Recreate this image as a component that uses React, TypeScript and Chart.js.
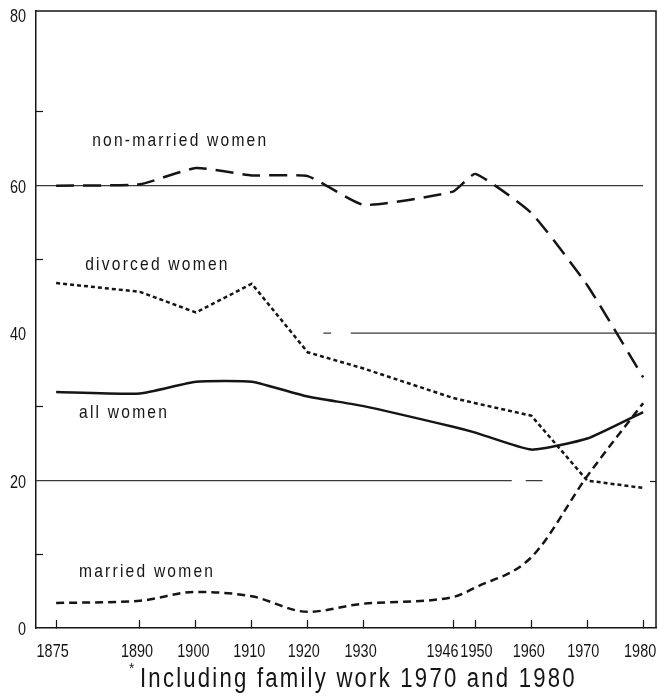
import React, { useEffect, useRef } from 'react';
import { Chart, registerables } from 'chart.js';

Chart.register(...registerables);

// ---- data ----
const years = [1875, 1890, 1900, 1910, 1920, 1930, 1946, 1950, 1960, 1970, 1980];
const nonMarriedWomen = [60.0, 60.2, 62.4, 61.4, 61.3, 57.4, 59.2, 61.6, 56.3, 46.5, 34.0];
const divorcedWomen = [46.8, 45.6, 42.8, 46.7, 37.4, 35.2, 31.2, 30.5, 28.8, 20.0, 19.0];
const allWomen = [32.0, 31.8, 33.4, 33.4, 31.4, 30.1, 27.3, 26.5, 24.2, 25.7, 29.3];
const marriedWomen = [3.4, 3.7, 4.9, 4.3, 2.2, 3.3, 4.2, 5.5, 9.6, 20.6, 30.5];

// x tick label nudges (px) as set in the original print
const xLabelShift = [-3.5, -3, -2.5, -2.5, -4, -3, -10.5, 1, -2.5, -4, -3];

const yTickValues = [0, 10, 20, 30, 40, 50, 60, 70, 83.2];
const yTickLabels = ['0', '', '20', '', '40', '', '60', '', '80'];
const yMinorTicks = [10, 30, 50, 70];

// reference lines (year, value)
const ref60 = [
  { x: 1871.4, y: 60 },
  { x: 1980, y: 60 },
];
const ref40 = [
  { x: 1922.8, y: 40 },
  { x: 1924.2, y: 40 },
  { x: 1926, y: null },
  { x: 1927.7, y: 40 },
  { x: 1982.3, y: 40 },
];
const ref20 = [
  { x: 1871.4, y: 20 },
  { x: 1956.5, y: 20 },
  { x: 1958, y: null },
  { x: 1959, y: 20 },
  { x: 1962, y: 20 },
];

const seriesLabels = [
  { text: 'non-married women', x: 1881.45, y: 65.35 },
  { text: 'divorced women', x: 1880.2, y: 48.5 },
  { text: 'all women', x: 1879.1, y: 28.5 },
  { text: 'married women', x: 1879.1, y: 6.9 },
];
const footnote = 'Including family work 1970 and 1980';

const toPoints = (vals: number[]) => years.map((yr, i) => ({ x: yr, y: vals[i] }));

const INK = '#151515';
const FONT = '"Liberation Sans", Arial, sans-serif';

function drawCondensed(
  ctx: CanvasRenderingContext2D,
  text: string,
  x: number,
  y: number,
  size: number,
  sx: number,
  align: CanvasTextAlign,
  spacing: number
) {
  ctx.save();
  ctx.translate(x, y);
  ctx.scale(sx, 1);
  ctx.font = `${size}px ${FONT}`;
  (ctx as any).letterSpacing = `${spacing}px`;
  ctx.textAlign = align;
  ctx.textBaseline = 'alphabetic';
  ctx.fillStyle = INK;
  ctx.fillText(text, 0, 0);
  ctx.restore();
}

const decorPlugin = {
  id: 'decor',
  afterDraw(chart: any) {
    const { ctx, chartArea: a, scales } = chart;
    const xs = scales.x;
    const ys = scales.y;
    ctx.save();
    // box top and right
    ctx.strokeStyle = INK;
    ctx.lineWidth = 1.5;
    ctx.beginPath();
    ctx.moveTo(a.left, a.top);
    ctx.lineTo(a.right, a.top);
    ctx.lineTo(a.right, a.bottom);
    ctx.stroke();
    // right inward tick at 20
    ctx.lineWidth = 1.2;
    const p20 = Math.round(ys.getPixelForValue(20)) + 0.5;
    ctx.beginPath();
    ctx.moveTo(a.right - 6, p20);
    ctx.lineTo(a.right, p20);
    ctx.stroke();
    ctx.restore();

    // x tick labels
    years.forEach((yr, i) => {
      drawCondensed(ctx, String(yr), xs.getPixelForValue(yr) + xLabelShift[i], 657, 19, 0.76, 'center', 0);
    });
    // y tick labels
    yTickValues.forEach((v, i) => {
      const t = yTickLabels[i];
      if (!t) return;
      drawCondensed(ctx, t, a.left - 10, ys.getPixelForValue(v) + 7, 19, 0.76, 'right', 0);
    });
    // series labels
    for (const l of seriesLabels) {
      drawCondensed(ctx, l.text, xs.getPixelForValue(l.x), ys.getPixelForValue(l.y), 19, 0.82, 'left', 2.7);
    }
    // footnote
    drawCondensed(ctx, '*', 129, 673, 15, 0.9, 'left', 0);
    drawCondensed(ctx, footnote, 140, 687, 27, 0.82, 'left', 2.7);
  },
};

export default function App() {
  const ref = useRef<HTMLCanvasElement | null>(null);

  useEffect(() => {
    document.body.style.margin = '0';
    const canvas = ref.current;
    if (!canvas) return;
    const lineBase = {
      pointRadius: 0,
      pointHoverRadius: 0,
      borderColor: INK,
      borderWidth: 2.5,
      fill: false,
    };
    const refBase = {
      pointRadius: 0,
      borderColor: '#3a3a3a',
      borderWidth: 1.2,
      fill: false,
      spanGaps: false,
      tension: 0,
      order: 10,
    };
    const chart = new Chart(canvas, {
      type: 'line',
      data: {
        datasets: [
          {
            ...lineBase,
            label: 'non-married women',
            data: toPoints(nonMarriedWomen),
            borderDash: [18, 9],
            tension: 0.15,
          },
          {
            ...lineBase,
            label: 'divorced women',
            data: toPoints(divorcedWomen),
            borderDash: [4, 3],
            tension: 0,
          },
          {
            ...lineBase,
            label: 'all women',
            data: toPoints(allWomen),
            tension: 0.15,
          },
          {
            ...lineBase,
            label: 'married women',
            data: toPoints(marriedWomen),
            borderDash: [8, 5],
            cubicInterpolationMode: 'monotone',
          },
          { ...refBase, label: 'ref60', data: ref60 },
          { ...refBase, label: 'ref40', data: ref40 },
          { ...refBase, label: 'ref20', data: ref20 },
        ] as any,
      },
      options: {
        responsive: false,
        animation: false,
        layout: { padding: { top: 11, right: 2, left: 0, bottom: 0 } },
        plugins: {
          legend: { display: false },
          tooltip: { enabled: false },
          title: { display: false },
        },
        scales: {
          x: {
            type: 'linear',
            min: 1871.4,
            max: 1982.3,
            afterBuildTicks: (scale: any) => {
              scale.ticks = years.map((v) => ({ value: v }));
            },
            afterFit: (scale: any) => {
              scale.height = 69;
            },
            border: { display: true, color: INK, width: 1.5 },
            grid: {
              drawOnChartArea: false,
              drawTicks: true,
              tickLength: -8,
              tickWidth: 1.2,
              tickColor: INK,
            },
            ticks: { display: false },
          },
          y: {
            type: 'linear',
            min: 0,
            max: 83.7,
            afterBuildTicks: (scale: any) => {
              scale.ticks = yTickValues.map((v) => ({ value: v }));
            },
            afterFit: (scale: any) => {
              scale.width = 36;
            },
            border: { display: true, color: INK, width: 1.5 },
            grid: {
              drawOnChartArea: false,
              drawTicks: true,
              tickLength: -7,
              tickWidth: 1.2,
              tickColor: (c: any) =>
                c.tick && yMinorTicks.includes(c.tick.value) ? INK : 'rgba(0,0,0,0)',
            },
            ticks: { display: false },
          },
        },
      },
      plugins: [decorPlugin],
    } as any);
    return () => chart.destroy();
  }, []);

  return (
    <div style={{ width: 658, height: 697, background: '#fff' }}>
      <canvas ref={ref} width={658} height={697} style={{ display: 'block' }} />
    </div>
  );
}
